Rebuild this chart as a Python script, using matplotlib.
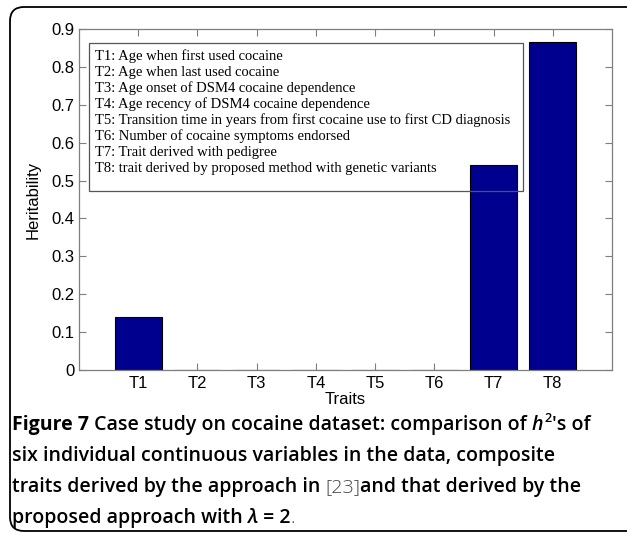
import matplotlib
matplotlib.use('Agg')
import matplotlib.pyplot as plt
import numpy as np
from matplotlib.patches import FancyBboxPatch, Rectangle

traits = ['T1', 'T2', 'T3', 'T4', 'T5', 'T6', 'T7', 'T8']
heritability = [0.14, 0.0, 0.0, 0.0, 0.0, 0.0, 0.54, 0.865]
yticks = [0, 0.1, 0.2, 0.3, 0.4, 0.5, 0.6, 0.7, 0.8, 0.9]
legend_lines = [
    'T1: Age when first used cocaine',
    'T2: Age when last used cocaine',
    'T3: Age onset of DSM4 cocaine dependence',
    'T4: Age recency of DSM4 cocaine dependence',
    'T5: Transition time in years from first cocaine use to first CD diagnosis',
    'T6: Number of cocaine symptoms endorsed',
    'T7: Trait derived with pedigree',
    'T8: trait derived by proposed method with genetic variants',
]

# caption runs: (text, style)
caption = [
    [('Figure 7', 'b'), (' Case study on cocaine dataset: comparison of ', 'n'),
     ('h', 'i'), ('2', 'sup'), ("\u2032s of", 'n')],
    [('six individual continuous variables in the data, composite', 'n')],
    [('traits derived by the approach in ', 'n'), ('[23]', 'ref'),
     ('and that derived by the', 'n')],
    [('proposed approach with ', 'n'), ('\u03bb', 'i'), (' = 2', 'n'), ('.', 'ref')],
]

W, H = 627, 533
fig = plt.figure(figsize=(W / 100, H / 100), dpi=100)

# rounded frame around figure + caption
frame = FancyBboxPatch((10, 2), 640, 524, boxstyle='round,pad=0,rounding_size=14',
                       transform=None, facecolor='none', edgecolor='black',
                       linewidth=1.3)
fig.patches.append(frame)

ax = fig.add_axes([79 / W, 163 / H, 533 / W, 341 / H])
x = np.arange(1, len(traits) + 1)
ax.bar(x, heritability, width=0.8, color='#00008f', edgecolor='black',
       linewidth=0.8, zorder=2)
ax.set_xlim(0, 9)
ax.set_ylim(0, 0.9)
ax.set_xticks(x)
ax.set_xticklabels(traits)
ax.set_yticks(yticks)
ax.set_yticklabels([f'{v:g}' for v in yticks])
for s in ax.spines.values():
    s.set_color('#7f7f7f')
    s.set_linewidth(0.9)
ax.tick_params(direction='in', top=True, right=True, length=5, width=0.8,
               color='#7f7f7f', labelsize=12)
ax.tick_params(axis='x', pad=4)
ax.tick_params(axis='y', pad=3)
for lab in ax.get_xticklabels() + ax.get_yticklabels():
    lab.set_fontfamily('Liberation Sans')
ax.set_xlabel('Traits', fontsize=12, family='Liberation Sans', labelpad=1)
ax.set_ylabel('Heritability', fontsize=12, family='Liberation Sans', labelpad=8)

# legend-style text box
box = Rectangle((0.019, 0.525), 0.814, 0.434, transform=ax.transAxes,
                facecolor='none', edgecolor='#555555', linewidth=0.9, zorder=5)
ax.add_patch(box)
for i, line in enumerate(legend_lines):
    ax.text(0.030, 0.921 - i * 0.0472, line, transform=ax.transAxes,
            family='Liberation Serif', fontsize=10.5, va='center', ha='left',
            zorder=6)

# caption with mixed styles
fig.canvas.draw()
renderer = fig.canvas.get_renderer()
baselines = [430, 461, 492, 523]
fs = 14
for row, base in zip(caption, baselines):
    px = 12
    for text, style in row:
        kw = dict(family='Open Sans', fontsize=fs, weight='semibold',
                  color='black', va='baseline', ha='left')
        py = base
        if style == 'b':
            kw['weight'] = 'bold'
        elif style == 'i':
            kw['style'] = 'italic'
        elif style == 'sup':
            kw['fontsize'] = fs * 0.65
            py = base - 8
            px += 1
        elif style == 'ref':
            kw['weight'] = 'light'
            kw['color'] = '#444444'
        t = fig.text(px / W, (H - py) / H, text, **kw)
        px = t.get_window_extent(renderer).x1

fig.savefig('out.png', dpi=100)
